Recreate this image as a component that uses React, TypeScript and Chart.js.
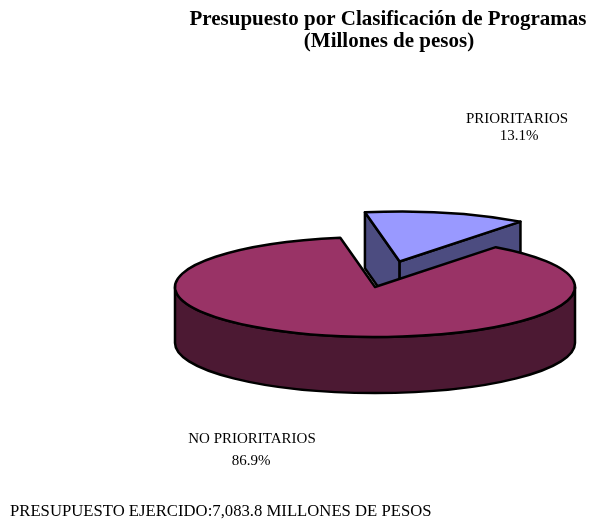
import React, { useEffect, useRef } from 'react';
import { Chart, registerables } from 'chart.js';

Chart.register(...registerables);

// ---- data ----
const titleLines = ['Presupuesto por Clasificación de Programas', '(Millones de pesos)'];
const categories = ['PRIORITARIOS', 'NO PRIORITARIOS'];
const shares = [13.1, 86.9];
const topColors = ['#9999FF', '#993366'];
const sideColors = ['#4C4C80', '#4C1933'];
const explodeOffsets = [105, 0];
const footnote = 'PRESUPUESTO EJERCIDO:7,083.8 MILLONES DE PESOS';

// ---- style ----
const TILT = 0.25;
const DEPTH = 56;
const SERIF = "'Liberation Serif', 'Times New Roman', serif";

const pie3d = {
  id: 'pie3d',
  beforeDatasetsDraw(chart: any) {
    const ctx = chart.ctx as CanvasRenderingContext2D;
    const meta = chart.getDatasetMeta(0);
    const slices = meta.data.map((el: any, i: number) => {
      const p = el.getProps(['x', 'y', 'startAngle', 'endAngle', 'outerRadius'], true);
      const off = el.options.offset || 0;
      const mid = (p.startAngle + p.endAngle) / 2;
      return {
        i,
        cx: p.x + Math.cos(mid) * off,
        cy: p.y + Math.sin(mid) * off * TILT,
        r: p.outerRadius,
        a0: p.startAngle,
        a1: p.endAngle,
      };
    });
    slices.sort((a: any, b: any) => a.cy - b.cy);

    ctx.save();
    ctx.lineWidth = 2.5;
    ctx.strokeStyle = '#000';
    ctx.lineJoin = 'round';
    const pt = (s: any, a: number, z: number) => [s.cx + s.r * Math.cos(a), s.cy + s.r * TILT * Math.sin(a) + z];

    for (const s of slices) {
      const side = sideColors[s.i];
      const top = topColors[s.i];
      // radial faces
      const faces: number[] = [];
      if (Math.cos(s.a0) < 0) faces.push(s.a0);
      if (Math.cos(s.a1) > 0) faces.push(s.a1);
      for (const a of faces) {
        const [ex, ey] = pt(s, a, 0);
        ctx.beginPath();
        ctx.moveTo(s.cx, s.cy);
        ctx.lineTo(ex, ey);
        ctx.lineTo(ex, ey + DEPTH);
        ctx.lineTo(s.cx, s.cy + DEPTH);
        ctx.closePath();
        ctx.fillStyle = side;
        ctx.fill();
        ctx.stroke();
      }
      // outer wall (front half only)
      for (const k of [-2 * Math.PI, 0, 2 * Math.PI]) {
        const lo = Math.max(s.a0, k);
        const hi = Math.min(s.a1, k + Math.PI);
        if (hi <= lo) continue;
        const [hx, hy] = pt(s, hi, 0);
        ctx.beginPath();
        ctx.ellipse(s.cx, s.cy, s.r, s.r * TILT, 0, lo, hi);
        ctx.lineTo(hx, hy + DEPTH);
        ctx.ellipse(s.cx, s.cy + DEPTH, s.r, s.r * TILT, 0, hi, lo, true);
        ctx.closePath();
        ctx.fillStyle = side;
        ctx.fill();
        ctx.stroke();
      }
      // top face
      ctx.beginPath();
      ctx.moveTo(s.cx, s.cy);
      ctx.ellipse(s.cx, s.cy, s.r, s.r * TILT, 0, s.a0, s.a1);
      ctx.closePath();
      ctx.fillStyle = top;
      ctx.fill();
      ctx.stroke();
    }
    ctx.restore();
    return false;
  },
  afterDraw(chart: any) {
    const ctx = chart.ctx as CanvasRenderingContext2D;
    ctx.save();
    ctx.fillStyle = '#000';
    ctx.textBaseline = 'alphabetic';
    ctx.textAlign = 'center';
    ctx.font = `bold 21px ${SERIF}`;
    ctx.fillText(titleLines[0], 388, 25);
    ctx.fillText(titleLines[1], 389, 47);

    ctx.font = `15px ${SERIF}`;
    ctx.fillText(categories[0], 517, 123);
    ctx.fillText(shares[0].toFixed(1) + '%', 519, 140);
    ctx.fillText(categories[1], 252, 443);
    ctx.fillText(shares[1].toFixed(1) + '%', 251, 465);

    ctx.textAlign = 'left';
    ctx.font = `16.7px ${SERIF}`;
    ctx.fillText(footnote, 10, 516);
    ctx.restore();
  },
};

export default function App() {
  const ref = useRef<HTMLCanvasElement>(null);
  useEffect(() => {
    if (!ref.current) return;
    const chart = new Chart(ref.current, {
      type: 'pie',
      data: {
        labels: categories,
        datasets: [
          {
            data: shares,
            backgroundColor: topColors,
            offset: explodeOffsets,
            borderWidth: 0,
            radius: 200,
            rotation: -10,
          } as any,
        ],
      },
      options: {
        responsive: false,
        animation: false,
        events: [],
        layout: { padding: { left: 175, right: 14, top: 187, bottom: 133 } },
        plugins: {
          legend: { display: false },
          tooltip: { enabled: false },
          title: { display: false },
        },
      } as any,
      plugins: [pie3d],
    });
    return () => chart.destroy();
  }, []);
  return (
    <div style={{ position: 'absolute', left: 0, top: 0, width: 589, height: 520, background: '#fff' }}>
      <canvas ref={ref} width={589} height={520} style={{ display: 'block' }} />
    </div>
  );
}
